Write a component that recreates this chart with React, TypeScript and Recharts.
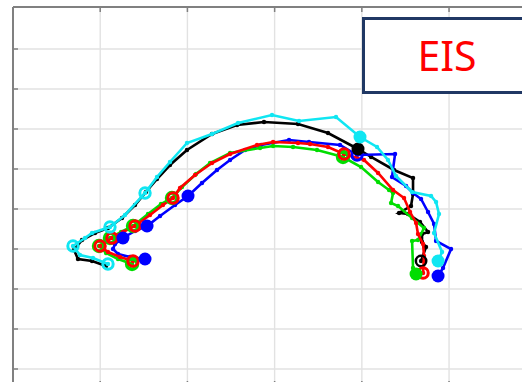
import React from 'react';
import { ScatterChart, Scatter, XAxis, YAxis, CartesianGrid } from 'recharts';

// Nyquist-like EIS traces, [re, -im] in grid units
const black = [
  [1.067, 2.575], [0.906, 2.7], [0.745, 2.75], [0.7, 2.975], [0.791, 3.225], [0.94, 3.4],
  [1.089, 3.525], [1.25, 3.775], [1.399, 4.1], [1.525, 4.425], [1.651, 4.75], [1.8, 5.1],
  [1.995, 5.475], [2.282, 5.875], [2.569, 6.1], [2.878, 6.175], [3.268, 6.125], [3.612, 5.9],
  [3.956, 5.5], [4.106, 5.3], [4.369, 4.975], [4.587, 4.775], [4.587, 4.375], [4.564, 4.075],
  [4.427, 3.9], [4.53, 3.875], [4.667, 3.675], [4.759, 3.425], [4.69, 3.375], [4.69, 3.175],
  [4.736, 3.05], [4.679, 2.7],
];
const blue = [
  [1.514, 2.75], [1.342, 2.8], [1.204, 2.875], [1.147, 3.0], [1.17, 3.125], [1.261, 3.275],
  [1.399, 3.45], [1.537, 3.575], [1.686, 3.825], [1.858, 4.1], [2.007, 4.325], [2.167, 4.65],
  [2.339, 4.975], [2.489, 5.225], [2.661, 5.475], [2.844, 5.6], [3.165, 5.725], [3.394, 5.675],
  [3.75, 5.6], [3.945, 5.35], [4.381, 5.375], [4.346, 4.8], [4.507, 4.575], [4.587, 4.4],
  [4.679, 4.25], [4.759, 3.925], [4.828, 3.625], [4.851, 3.2], [5.023, 3.0], [4.931, 2.525],
  [4.874, 2.325],
];
const green = [
  [1.365, 2.625], [1.204, 2.75], [1.067, 2.9], [0.986, 3.075], [1.112, 3.275], [1.239, 3.425],
  [1.376, 3.575], [1.548, 3.875], [1.697, 4.125], [1.823, 4.275], [1.938, 4.55], [2.099, 4.875],
  [2.259, 5.15], [2.489, 5.4], [2.833, 5.525], [2.982, 5.575], [3.211, 5.55], [3.486, 5.475],
  [3.784, 5.3], [3.991, 5.05], [4.186, 4.675], [4.312, 4.475], [4.358, 4.4], [4.335, 4.15],
  [4.415, 4.075], [4.576, 3.775], [4.713, 3.525], [4.644, 3.225], [4.576, 3.2], [4.587, 2.525],
  [4.622, 2.375],
];
const red = [
  [1.376, 2.7], [1.227, 2.8], [1.089, 2.925], [0.998, 3.075], [1.135, 3.275], [1.261, 3.425],
  [1.399, 3.575], [1.571, 3.85], [1.72, 4.1], [1.835, 4.275], [1.915, 4.525], [2.087, 4.85],
  [2.282, 5.15], [2.489, 5.375], [2.798, 5.6], [2.982, 5.675], [3.268, 5.65], [3.406, 5.625],
  [3.612, 5.55], [3.796, 5.375], [4.025, 5.225], [4.186, 4.9], [4.358, 4.475], [4.484, 4.275],
  [4.553, 3.925], [4.622, 3.65], [4.644, 3.375], [4.702, 3.125], [4.713, 2.825], [4.702, 2.4],
];
const cyan = [
  [1.089, 2.625], [0.917, 2.775], [0.768, 2.85], [0.688, 3.075], [0.826, 3.275], [0.906, 3.4],
  [1.112, 3.55], [1.284, 3.85], [1.514, 4.4], [1.651, 4.8], [1.8, 5.175], [1.995, 5.65],
  [2.282, 5.875], [2.58, 6.15], [2.97, 6.35], [3.28, 6.2], [3.704, 6.3], [3.979, 5.8],
  [4.174, 5.55], [4.3, 5.225], [4.392, 4.825], [4.576, 4.425], [4.794, 4.325], [4.851, 4.175],
  [4.885, 3.875], [4.828, 3.4], [4.92, 2.925], [4.874, 2.7],
];

// indices of the marked frequencies
const blackRings = [31];
const blackDots = [18];
const blueRings = [19];
const blueDots = [0, 5, 7, 10, 30];
const greenRings = [0, 3, 4, 6, 9, 18];
const greenDots = [30];
const redRings = [0, 3, 4, 6, 9, 19, 29];
const redDots: number[] = [];
const cyanRings = [0, 3, 6, 8];
const cyanDots = [17, 27];

const xTicks = [0, 1, 2, 3, 4, 5, 6];
const yTicks = [0, 1, 2, 3, 4, 5, 6, 7, 8];

const series = [
  { key: 'black', color: '#000000', pts: black, rings: blackRings, dots: blackDots, rw: 2.5 },
  { key: 'blue', color: '#0000ff', pts: blue, rings: blueRings, dots: blueDots, rw: 3 },
  { key: 'green', color: '#00dd00', pts: green, rings: greenRings, dots: greenDots, rw: 4 },
  { key: 'red', color: '#ff0000', pts: red, rings: redRings, dots: redDots, rw: 3 },
  { key: 'cyan', color: '#10e6f2', pts: cyan, rings: cyanRings, dots: cyanDots, rw: 3 },
];

const toData = (pts: number[][]) => pts.map(([x, y]) => ({ x, y }));
const pick = (pts: number[][], idx: number[]) => toData(idx.map((i) => pts[i]));

const AX = '#808080';

const LeftTick = (p: any) => (
  <line x1={p.x} y1={p.y} x2={p.x + 5} y2={p.y} stroke={AX} strokeWidth={1.5} />
);
const BottomTick = (p: any) => (
  <line x1={p.x} y1={p.y} x2={p.x} y2={p.y - 5} stroke={AX} strokeWidth={1.5} />
);
const TopTick = (p: any) => (
  <line x1={p.x} y1={p.y} x2={p.x} y2={p.y + 5} stroke={AX} strokeWidth={1.5} />
);

const smallDot = (c: string) => (p: any) => <circle cx={p.cx} cy={p.cy} r={2.2} fill={c} />;
const ring = (c: string, w: number) => (p: any) => (
  <circle cx={p.cx} cy={p.cy} r={5.2} fill="none" stroke={c} strokeWidth={w} />
);
const bigDot = (c: string) => (p: any) => <circle cx={p.cx} cy={p.cy} r={6.5} fill={c} />;

const App: React.FC = () => {
  return (
    <div style={{ position: 'fixed', left: 0, top: 0, width: 522, height: 382, overflow: 'hidden', background: '#fff' }}>
      <ScatterChart width={538} height={392} margin={{ top: 0, right: 0, bottom: 0, left: 0 }}>
        <CartesianGrid stroke="#e2e2e2" strokeWidth={1.4} />
        <XAxis
          type="number"
          dataKey="x"
          domain={[0, 6.02]}
          ticks={xTicks}
          allowDataOverflow
          height={6}
          tickSize={0}
          tickMargin={0}
          tick={BottomTick}
          axisLine={{ stroke: AX, strokeWidth: 1.5 }}
        />
        <XAxis
          xAxisId="top"
          orientation="top"
          type="number"
          dataKey="x"
          domain={[0, 6.02]}
          ticks={xTicks}
          allowDataOverflow
          height={7}
          tickSize={0}
          tickMargin={0}
          tick={TopTick}
          axisLine={{ stroke: AX, strokeWidth: 2 }}
        />
        <YAxis
          type="number"
          dataKey="y"
          domain={[-0.425, 9.05]}
          ticks={yTicks}
          allowDataOverflow
          width={13}
          tickSize={0}
          tickMargin={0}
          tick={LeftTick}
          axisLine={{ stroke: AX, strokeWidth: 2 }}
        />
        {series.map((s) => (
          <Scatter
            key={s.key + '-line'}
            data={toData(s.pts)}
            line={{ stroke: s.color, strokeWidth: 2.6 }}
            lineJointType="linear"
            shape={smallDot(s.color)}
            isAnimationActive={false}
          />
        ))}
        {series.map((s) => (
          <Scatter
            key={s.key + '-rings'}
            data={pick(s.pts, s.rings)}
            shape={ring(s.color, s.rw)}
            isAnimationActive={false}
          />
        ))}
        {series.map((s) => (
          <Scatter
            key={s.key + '-dots'}
            data={pick(s.pts, s.dots)}
            shape={bigDot(s.color)}
            isAnimationActive={false}
          />
        ))}
      </ScatterChart>
      <div
        style={{
          position: 'absolute',
          left: 362,
          top: 17,
          width: 170,
          height: 77,
          boxSizing: 'border-box',
          border: '3px solid #203864',
          background: '#fff',
          display: 'flex',
          alignItems: 'center',
          justifyContent: 'center',
          color: '#ff0000',
          fontFamily: '"Noto Sans", "Open Sans", sans-serif',
          fontSize: 41,
          lineHeight: 1,
        }}
      >
        EIS
      </div>
    </div>
  );
};

export default App;
